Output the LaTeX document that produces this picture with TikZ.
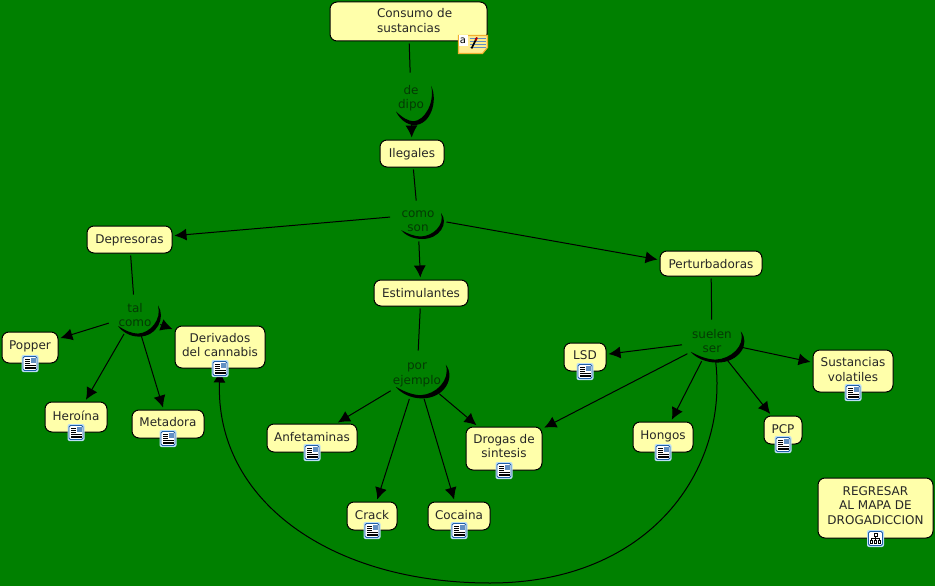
\documentclass[tikz,border=0pt]{standalone}
\usepackage{fontspec}
\setmainfont{DejaVu Sans}
\usepackage{xcolor}
\usetikzlibrary{arrows.meta,positioning,shapes.geometric}
\definecolor{fieldgreen}{HTML}{008000}
\definecolor{softyellow}{HTML}{FFFFAA}
\definecolor{linkgreen}{HTML}{043A04}
\definecolor{iconblue}{HTML}{1F5FA8}
\definecolor{iconglow}{HTML}{BBDDF5}
\definecolor{noteorange}{HTML}{F0B030}
\tikzset{
  moon/.pic={
    \fill[black] (23,-8) .. controls (31,2) and (22,18) .. (4,18) .. controls (-5,18) and (-13,14) .. (-17,9)
      .. controls (-10,13) and (-3,15.5) .. (3,15.5) .. controls (15,15) and (27,4) .. (23,-8) -- cycle;
  },
  docicon/.pic={
    \fill[iconglow, rounded corners=2pt] (-8.5,-8.5) rectangle (8.5,8.5);
    \draw[iconblue, fill=white, line width=.9pt, rounded corners=1.5pt] (-7,-7) rectangle (7,7);
    \fill[iconblue!70] (0.5,-5.5) rectangle (5.5,-0.5);
    \foreach \ly in {-4.5,-2.5,-0.5} \draw[black, line width=.7pt] (-5,\ly) -- (0,\ly);
    \foreach \ly in {1.5,3.5,5} \draw[black, line width=.7pt] (-5,\ly) -- (5.5,\ly);
  },
  mapicon/.pic={
    \fill[iconglow, rounded corners=2pt] (-8.5,-8.5) rectangle (8.5,8.5);
    \draw[iconblue, fill=white, line width=.9pt, rounded corners=1.5pt] (-7,-7) rectangle (7,7);
    \draw[black, line width=.8pt] (-1.5,-5) rectangle (1.5,-2.5) (0,-2.5) -- (0,2) (-4,2) -- (-4,0) -- (4,0) -- (4,2);
    \draw[black, line width=.8pt] (-5,2) rectangle (-3,5) (-1,2) rectangle (1,5) (3,2) rectangle (5,5);
  },
  noteicon/.pic={
    \draw[noteorange, fill=softyellow!85!orange, line width=1.2pt] (-29,-6) -- (0,-6) -- (0,6) -- (-5,12) -- (-29,12) -- cycle;
    \fill[white] (-29,-6) rectangle (-20,5);
    \node[font=\fontsize{10}{10}\selectfont, inner sep=0pt] (notea) at (-24.5,-1) {a};
    \foreach \ly in {-3,0,3,6} \draw[iconblue!70, line width=1pt] (-18,\ly) -- (-2,\ly);
    \draw[black, line width=1.6pt] (-16,7) -- (-11,-3);
    \draw[red!70!black, line width=1.8pt] (-12,-1) -- (-10.5,-4);
  }
}
\begin{document}
\begin{tikzpicture}[x=1pt, y=-1pt, line width=1pt,
  every node/.style={font=\fontsize{12}{14.5}\selectfont},
  concept/.style n args={3}{draw=black, fill=softyellow, rounded corners=7pt, anchor=north west, xshift=-.5pt, yshift=.5pt, align=center, inner xsep=0pt, inner ysep=0pt, minimum width=#1, text height=#2, text depth=#3, text=black!85},
  phrase/.style n args={2}{ellipse, inner sep=0pt, align=center, minimum width=#1, minimum height=#2, text=linkgreen},
  link/.style={-{Latex[length=12pt,width=12pt]}, shorten >=2pt},
  plain/.style={shorten <=2pt}]
  \fill[fieldgreen] (0,0) rectangle (935,586);
  \useasboundingbox (0,0) rectangle (935,586);
  % top of the map
  \node[concept={157}{16}{23}, text width=157pt, align=left] (consumo) at (330,2) {\hspace*{47pt}Consumo de\\\hspace*{47pt}sustancias};
  \node[phrase={44}{50}] (dipo) at (411,98) {de\\dipo};
  \node[concept={64}{17}{10}] (ilegales) at (380,140) {Ilegales};
  \node[phrase={56}{40}] (como) at (418,221) {como\\son};
  \node[concept={85}{17}{10}] (depresoras) at (87,226) {Depresoras};
  \node[concept={94}{17}{9}] (estimulantes) at (374,280) {Estimulantes};
  \node[concept={102}{17}{8}] (perturbadoras) at (660,251) {Perturbadoras};
  % left branch
  \node[phrase={56}{40}] (tal) at (135,315) {tal\\como};
  \node[concept={56}{17}{14}] (popper) at (2,332) {Popper};
  \node[concept={62}{18}{12}] (heroina) at (45,402) {Heroína};
  \node[concept={72}{16}{12}] (metadora) at (132,410) {Metadora};
  \node[concept={90}{30.5}{11.5}] (derivados) at (175,326) {Derivados\\del cannabis};
  % middle branch
  \node[phrase={62}{48}] (por) at (417,375) {por\\ejemplo};
  \node[concept={90}{17}{11}] (anfetaminas) at (267,424) {Anfetaminas};
  \node[concept={76}{30.5}{12.5}] (drogas) at (466,427) {Drogas de\\sintesis};
  \node[concept={50}{17}{11}] (crack) at (347,502) {Crack};
  \node[concept={62}{17}{11}] (cocaina) at (428,502) {Cocaina};
  % right branch
  \node[phrase={60}{42}] (suelen) at (712,341) {suelen\\ser};
  \node[concept={42}{16}{12}] (lsd) at (564,343) {LSD};
  \node[concept={60}{17}{13}] (hongos) at (633,422) {Hongos};
  \node[concept={38}{17}{11}] (pcp) at (764,416) {PCP};
  \node[concept={80}{31}{11}] (volatiles) at (813,350) {Sustancias\\volatiles};
  \node[concept={115}{46}{14}] (regresar) at (818,478) {REGRESAR\\AL MAPA DE\\DROGADICCION};
  \coordinate (curvemid) at (490,583);
  % crescents under the phrases
  \pic[xscale=.88, yscale=1.5] at (dipo) {moon};
  \pic at (como) {moon};
  \pic[yscale=1.2] at (tal) {moon};
  \pic[xscale=1.25, yscale=1.3] at (por) {moon};
  \pic[xscale=1.25, yscale=1.2] at (suelen) {moon};
  % connectors
  \draw[plain] (consumo) -- (dipo);
  \draw[link] (dipo) -- (ilegales);
  \draw[plain] (ilegales) -- (como);
  \draw[link] (como.172) -- (depresoras);
  \draw[link] (como) -- (estimulantes);
  \draw[link] (como.358) -- (perturbadoras.176);
  \draw[plain] (depresoras) -- (tal);
  \draw[link] (tal) -- (popper);
  \draw[link] (tal) -- (heroina);
  \draw[link] (tal) -- (metadora);
  \draw[link] (tal) -- (derivados);
  \draw[plain] (estimulantes) -- (por);
  \draw[link] (por) -- (anfetaminas);
  \draw[link] (por) -- (crack);
  \draw[link] (por) -- (cocaina);
  \draw[link] (por) -- (drogas);
  \draw[plain] (perturbadoras) -- (suelen);
  \draw[link] (suelen) -- (lsd);
  \draw[link] (suelen) -- (drogas);
  \draw[link] (suelen) -- (hongos);
  \draw[link] (suelen) -- (pcp);
  \draw[link] (suelen) -- (volatiles);
  \draw[link] (suelen.-80) .. controls (728,470) and (650,583) .. (curvemid) .. controls (330,583) and (215,500) .. (derivados.south);
  % icons on top of the boxes
  \foreach \n in {popper,heroina,metadora,derivados,anfetaminas,drogas,crack,cocaina,lsd,hongos,pcp,volatiles}
    \pic at (\n.south) {docicon};
  \pic at (regresar.south) {mapicon};
  \pic at (consumo.south east) {noteicon};
\end{tikzpicture}
\end{document}
